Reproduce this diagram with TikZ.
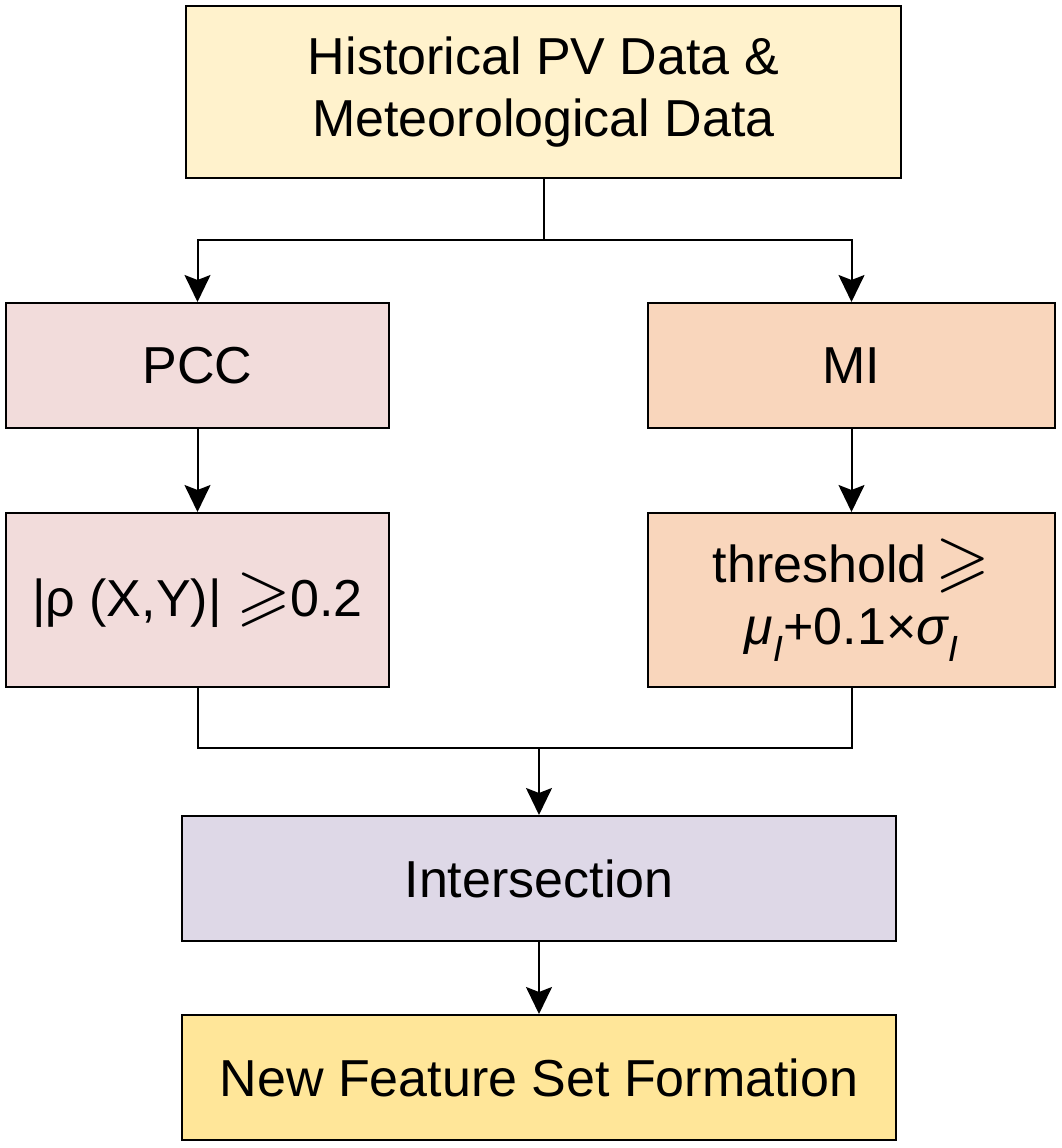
\documentclass[tikz,border=0pt]{standalone}
\usepackage{amssymb}
\usepackage{graphicx}
\usepackage{fontspec}
\setmainfont{Liberation Sans}
\usetikzlibrary{arrows.meta}
\definecolor{cTop}{HTML}{FFF2CC}
\definecolor{cPink}{HTML}{F2DCDB}
\definecolor{cPeach}{HTML}{F9D6BC}
\definecolor{cLav}{HTML}{DED8E7}
\definecolor{cGold}{HTML}{FFE699}
\newcommand{\bigge}{\raisebox{-1pt}{\scalebox{1.35}{$\geqslant$}}}
\begin{document}
\begin{tikzpicture}[x=1pt,y=-1pt,
  box/.style={draw=black,line width=2pt,inner sep=0pt,align=center,font=\fontsize{52}{62}\selectfont},
  conn/.style={line width=2pt},
  arr/.style={line width=2pt,-{Stealth[length=27pt,width=26pt,inset=5pt]}}]
\useasboundingbox (0,0) rectangle (1061,1148);
\node[box,fill=cTop,minimum width=715pt,minimum height=172pt] (top) at (543.5,92) {Historical PV Data \&\\Meteorological Data};
\node[box,fill=cPink,minimum width=383pt,minimum height=125pt] (pcc) at (197.5,365.5) {PCC};
\node[box,fill=cPeach,minimum width=407pt,minimum height=125pt] (mi) at (851.5,365.5) {MI};
\node[box,fill=cPink,minimum width=383pt,minimum height=174pt] (rho) at (197.5,600) {|ρ (X,Y)| \bigge0.2};
\node[box,fill=cPeach,minimum width=407pt,minimum height=174pt] (thr) at (851.5,600) {threshold\,\bigge\\{\itshape μ}\textsubscript{\itshape I}+0.1×{\itshape σ}\textsubscript{\itshape I}};
\node[box,fill=cLav,minimum width=714pt,minimum height=125pt] (inter) at (539,878.5) {Intersection};
\node[box,fill=cGold,minimum width=714pt,minimum height=125pt] (new) at (539,1077.5) {New Feature Set Formation};
\coordinate (s1) at (543.5,240);
\coordinate (m1) at (539,748);
\draw[conn] (top.south) -- (s1);
\draw[arr] (s1) -| (pcc.north);
\draw[arr] (s1) -| (mi.north);
\draw[arr] (pcc.south) -- (rho.north);
\draw[arr] (mi.south) -- (thr.north);
\draw[conn] (rho.south) |- (m1) -| (thr.south);
\draw[arr] (m1) -- (inter.north);
\draw[arr] (inter.south) -- (new.north);
\end{tikzpicture}
\end{document}
